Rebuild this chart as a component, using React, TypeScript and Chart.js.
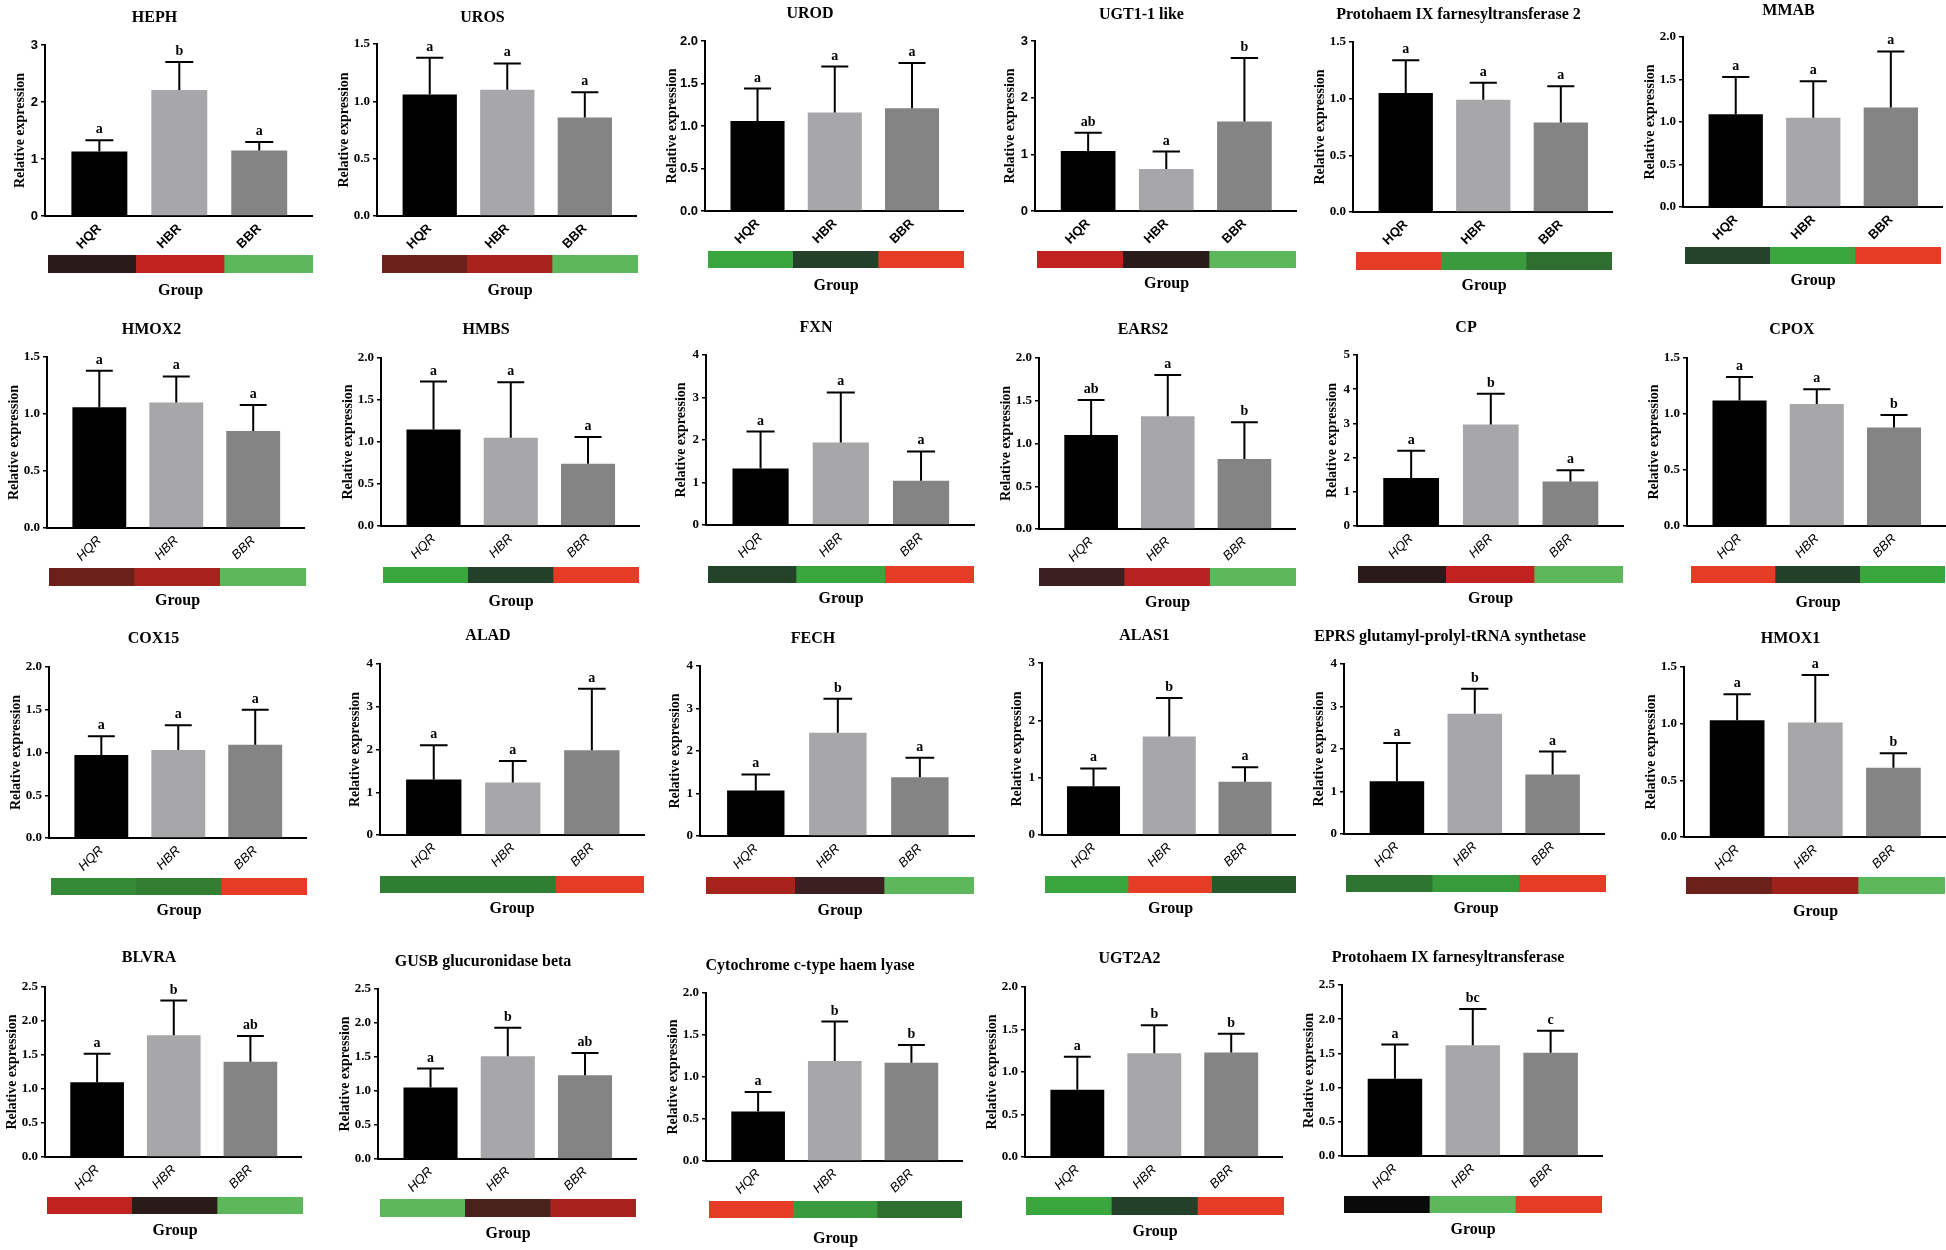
import React, { useEffect, useRef } from 'react';
import { Chart, registerables } from 'chart.js';
Chart.register(...registerables);

// ---------------- DATA ----------------
const genes = [
  'HEPH', 'UROS', 'UROD', 'UGT1-1 like', 'Protohaem IX farnesyltransferase 2', 'MMAB',
  'HMOX2', 'HMBS', 'FXN', 'EARS2', 'CP', 'CPOX',
  'COX15', 'ALAD', 'FECH', 'ALAS1', 'EPRS glutamyl-prolyl-tRNA synthetase', 'HMOX1',
  'BLVRA', 'GUSB glucuronidase beta', 'Cytochrome c-type haem lyase', 'UGT2A2', 'Protohaem IX farnesyltransferase',
];
const groups = ['HQR', 'HBR', 'BBR'];
const yAxisTitle = 'Relative expression';
const stripTitle = 'Group';

const hqrMean = [1.13, 1.06, 1.06, 1.06, 1.05, 1.09, 1.06, 1.15, 1.33, 1.10, 1.40, 1.12, 0.97, 1.30, 1.07, 0.85, 1.24, 1.03, 1.10, 1.05, 0.59, 0.79, 1.13];
const hqrErr = [0.20, 0.32, 0.38, 0.32, 0.29, 0.44, 0.32, 0.57, 0.87, 0.41, 0.80, 0.21, 0.22, 0.80, 0.38, 0.31, 0.90, 0.23, 0.42, 0.28, 0.23, 0.39, 0.50];
const hbrMean = [2.21, 1.10, 1.16, 0.74, 0.99, 1.05, 1.10, 1.05, 1.94, 1.32, 2.97, 1.09, 1.03, 1.23, 2.43, 1.72, 2.83, 1.01, 1.79, 1.51, 1.19, 1.22, 1.62];
const hbrErr = [0.49, 0.23, 0.54, 0.31, 0.15, 0.43, 0.23, 0.66, 1.18, 0.48, 0.90, 0.13, 0.29, 0.50, 0.80, 0.67, 0.59, 0.42, 0.51, 0.42, 0.47, 0.33, 0.53];
const bbrMean = [1.15, 0.86, 1.21, 1.58, 0.79, 1.17, 0.85, 0.74, 1.04, 0.82, 1.30, 0.88, 1.09, 1.98, 1.38, 0.93, 1.40, 0.61, 1.40, 1.23, 1.17, 1.23, 1.51];
const bbrErr = [0.15, 0.22, 0.53, 1.12, 0.32, 0.66, 0.23, 0.32, 0.69, 0.43, 0.33, 0.11, 0.41, 1.44, 0.46, 0.25, 0.54, 0.13, 0.38, 0.33, 0.21, 0.22, 0.32];

const hqrLetter = ['a', 'a', 'a', 'ab', 'a', 'a', 'a', 'a', 'a', 'ab', 'a', 'a', 'a', 'a', 'a', 'a', 'a', 'a', 'a', 'a', 'a', 'a', 'a'];
const hbrLetter = ['b', 'a', 'a', 'a', 'a', 'a', 'a', 'a', 'a', 'a', 'b', 'a', 'a', 'a', 'b', 'b', 'b', 'a', 'b', 'b', 'b', 'b', 'bc'];
const bbrLetter = ['a', 'a', 'a', 'b', 'a', 'a', 'a', 'a', 'a', 'b', 'a', 'b', 'a', 'a', 'a', 'a', 'a', 'b', 'ab', 'ab', 'b', 'b', 'c'];

const yMax = [3, 1.5, 2, 3, 1.5, 2, 1.5, 2, 4, 2, 5, 1.5, 2, 4, 4, 3, 4, 1.5, 2.5, 2.5, 2, 2, 2.5];
const yStep = [1, 0.5, 0.5, 1, 0.5, 0.5, 0.5, 0.5, 1, 0.5, 1, 0.5, 0.5, 1, 1, 1, 1, 0.5, 0.5, 0.5, 0.5, 0.5, 0.5];

// heat-strip colours per group
const stripHQR = ['#2b1a1a', '#6b201a', '#3aa63e', '#c0231f', '#e63b25', '#24442a', '#6b201a', '#3aa63e', '#24442a', '#3a2020', '#2b1a1a', '#e63b25', '#358a38', '#2f7f33', '#a8231c', '#3aa63e', '#2e7532', '#6b201a', '#c0231f', '#5cb85a', '#e63b25', '#3aa63e', '#0a0a0a'];
const stripHBR = ['#c0231f', '#a8231c', '#23402a', '#2b1a1a', '#3a9a3e', '#3aa63e', '#a8231c', '#23402a', '#3aa63e', '#b82222', '#c0231f', '#23402a', '#327f34', '#2f7f33', '#3a2020', '#e63b25', '#379a3b', '#9e201a', '#2b1a1a', '#4a221c', '#3a9a3e', '#23402a', '#5cb85a'];
const stripBBR = ['#5cb85a', '#5cb85a', '#e63b25', '#5cb85a', '#2e6e2e', '#e63b25', '#5cb85a', '#e63b25', '#e63b25', '#5cb85a', '#5cb85a', '#3aa63e', '#e63b25', '#e63b25', '#5cb85a', '#26592a', '#e63b25', '#5cb85a', '#5cb85a', '#a8231c', '#2e6e2e', '#e63b25', '#e63b25'];

const barColors = ['#000000', '#a7a7a9', '#848484'];

// ---------------- LAYOUT (pixels) ----------------
// [plotLeft, plotRight, plotTop, plotBottom, titleY, stripLeft, stripRight, stripTop, stripBottom, groupY]
const LAYOUT: number[][] = [
  [45, 312, 45, 216, 18, 48, 313, 255, 273, 290],
  [377, 636, 44, 216, 18, 382, 638, 255, 273, 290],
  [705, 963, 41, 211, 14, 708, 964, 251, 268, 285],
  [1035, 1296, 41, 211, 15, 1037, 1296, 251, 268, 283],
  [1353, 1612, 42, 212, 15, 1356, 1612, 252, 270, 285],
  [1683, 1942, 37, 207, 11, 1685, 1941, 247, 264, 280],
  [47, 304, 357, 528, 330, 49, 306, 568, 586, 600],
  [381, 639, 358, 526, 330, 383, 639, 567, 583, 601],
  [706, 974, 355, 525, 328, 708, 974, 566, 583, 598],
  [1039, 1295, 358, 529, 330, 1039, 1296, 568, 586, 602],
  [1357, 1623, 355, 526, 328, 1358, 1623, 566, 583, 598],
  [1687, 1945, 358, 526, 330, 1691, 1945, 566, 583, 602],
  [49, 306, 667, 838, 639, 51, 307, 878, 895, 910],
  [380, 644, 664, 835, 636, 380, 644, 876, 893, 908],
  [700, 974, 666, 836, 639, 706, 974, 877, 894, 910],
  [1042, 1295, 663, 835, 636, 1045, 1296, 876, 893, 908],
  [1344, 1604, 664, 834, 637, 1346, 1606, 875, 892, 908],
  [1684, 1945, 667, 837, 639, 1686, 1945, 877, 894, 911],
  [45, 301, 987, 1157, 958, 47, 303, 1197, 1214, 1230],
  [378, 636, 989, 1159, 962, 380, 636, 1199, 1217, 1233],
  [706, 962, 993, 1161, 966, 709, 962, 1201, 1218, 1238],
  [1025, 1282, 987, 1157, 959, 1026, 1284, 1197, 1215, 1231],
  [1342, 1602, 985, 1156, 958, 1344, 1602, 1196, 1213, 1229],
];

const YW = 48; // y-axis box width
const PR = 48; // right padding (symmetric so title centres over plot)
const XH = 40; // x-axis box height
const SERIF = "'Liberation Serif', 'Times New Roman', serif";
const SANS = "'Liberation Sans', Arial, sans-serif";

function mainGeom(i: number) {
  const [pl, pr, pt, pb, ty] = LAYOUT[i];
  const left = pl - YW;
  const top = ty - 12;
  return { left, top, width: pr - pl + YW + PR, height: pb + XH - top };
}
function stripGeom(i: number) {
  const [, , , , , sl, sr, st, sb, gy] = LAYOUT[i];
  return { left: sl, top: st, width: sr - sl, height: Math.round(gy + 9.6 - st), stripH: sb - st };
}

function makeMain(canvas: HTMLCanvasElement, i: number) {
  const [, , pt, , ty] = LAYOUT[i];
  const means = [hqrMean[i], hbrMean[i], bbrMean[i]];
  const errs = [hqrErr[i], hbrErr[i], bbrErr[i]];
  const letters = [hqrLetter[i], hbrLetter[i], bbrLetter[i]];
  const row = Math.floor(i / 6);
  const tickSans = [0, 2, 3].includes(i);
  const decimal = yStep[i] < 1;
  const titleDist = decimal ? 33 : 25;

  const errPlugin = {
    id: 'errbars' + i,
    afterDatasetsDraw(chart: any) {
      const meta = chart.getDatasetMeta(0);
      const ys = chart.scales.y;
      const ctx = chart.ctx;
      meta.data.forEach((bar: any, k: number) => {
        const p = bar.getProps(['x', 'y', 'width'], true);
        const top = ys.getPixelForValue(means[k] + errs[k]);
        ctx.save();
        ctx.strokeStyle = '#000';
        ctx.lineWidth = 2;
        ctx.beginPath();
        ctx.moveTo(p.x, p.y);
        ctx.lineTo(p.x, top);
        ctx.moveTo(p.x - p.width * 0.25, top);
        ctx.lineTo(p.x + p.width * 0.25, top);
        ctx.stroke();
        ctx.fillStyle = '#000';
        ctx.font = `bold 14px ${SERIF}`;
        ctx.textAlign = 'center';
        ctx.textBaseline = 'alphabetic';
        ctx.fillText(letters[k], p.x, top - 7);
        ctx.restore();
      });
    },
  };

  return new Chart(canvas, {
    type: 'bar',
    data: {
      datasets: [{
        data: means.map((v, k) => ({ x: k, y: v })),
        backgroundColor: barColors,
        borderWidth: 0,
        barPercentage: 0.7,
        categoryPercentage: 1,
      }],
    },
    options: {
      animation: false,
      responsive: false,
      devicePixelRatio: 1,
      events: [],
      layout: { padding: { left: 0, right: PR, top: 0, bottom: 0 } },
      plugins: {
        legend: { display: false },
        tooltip: { enabled: false },
        title: {
          display: true,
          text: genes[i],
          color: '#000',
          font: { family: SERIF, size: 16, weight: 'bold' },
          padding: { top: 2.4, bottom: pt - ty - 9.6 },
        },
      },
      scales: {
        x: {
          type: 'linear',
          min: -0.68,
          max: 2.66,
          bounds: 'data',
          offset: false,
          grid: { display: false, drawTicks: false, offset: false },
          border: { display: true, color: '#000', width: 2 },
          afterBuildTicks: (s: any) => { s.ticks = groups.map((_, k) => ({ value: k })); },
          ticks: {
            autoSkip: false,
            minRotation: 45,
            maxRotation: 45,
            padding: 5,
            color: '#000',
            font: { family: SANS, size: 13, style: row === 0 ? 'normal' : 'italic', weight: row === 0 ? 'bold' : 'normal' },
            callback: (v: any) => groups[v] ?? '',
          },
          afterFit: (s: any) => { s.height = XH; },
        },
        y: {
          min: 0,
          max: yMax[i],
          ticks: {
            stepSize: yStep[i],
            color: '#000',
            padding: 3,
            font: { family: tickSans ? SANS : SERIF, size: 13, weight: 'bold' },
            callback: (v: any) => (decimal ? Number(v).toFixed(1) : String(v)),
          },
          grid: { drawOnChartArea: false, drawTicks: true, tickLength: 4, color: '#000', lineWidth: 1.5 },
          border: { display: true, color: '#000', width: 2 },
          title: {
            display: true,
            text: yAxisTitle,
            color: '#000',
            font: { family: SERIF, size: 14, weight: 'bold' },
            padding: { top: YW - titleDist - 8.4, bottom: 0 },
          },
          afterFit: (s: any) => { s.width = YW; },
        },
      },
    } as any,
    plugins: [errPlugin],
  });
}

function makeStrip(canvas: HTMLCanvasElement, i: number) {
  const g = stripGeom(i);
  return new Chart(canvas, {
    type: 'bar',
    data: {
      labels: groups,
      datasets: [{
        data: [1, 1, 1],
        backgroundColor: [stripHQR[i], stripHBR[i], stripBBR[i]],
        borderWidth: 0,
        barPercentage: 1,
        categoryPercentage: 1,
      }],
    },
    options: {
      animation: false,
      responsive: false,
      devicePixelRatio: 1,
      events: [],
      layout: { padding: 0 },
      plugins: { legend: { display: false }, tooltip: { enabled: false } },
      scales: {
        x: {
          grid: { display: false, drawTicks: false },
          border: { display: false },
          ticks: { display: false },
          title: {
            display: true,
            text: stripTitle,
            color: '#000',
            font: { family: SERIF, size: 16, weight: 'bold' },
            padding: 0,
          },
          afterFit: (s: any) => { s.height = g.height - g.stripH; },
        },
        y: { display: false, min: 0, max: 1 },
      },
    } as any,
  });
}

function Panel({ i }: { i: number }) {
  const mainRef = useRef<HTMLCanvasElement>(null);
  const stripRef = useRef<HTMLCanvasElement>(null);
  useEffect(() => {
    const c1 = makeMain(mainRef.current!, i);
    const c2 = makeStrip(stripRef.current!, i);
    return () => { c1.destroy(); c2.destroy(); };
  }, [i]);
  const m = mainGeom(i);
  const s = stripGeom(i);
  return (
    <>
      <canvas
        ref={mainRef}
        width={m.width}
        height={m.height}
        style={{ position: 'absolute', left: m.left, top: m.top, width: m.width, height: m.height }}
      />
      <canvas
        ref={stripRef}
        width={s.width}
        height={s.height}
        style={{ position: 'absolute', left: s.left, top: s.top, width: s.width, height: s.height }}
      />
    </>
  );
}

export default function App() {
  return (
    <div style={{ position: 'absolute', left: 0, top: 0, width: 1946, height: 1250, overflow: 'hidden', background: '#fff' }}>
      {genes.map((_, i) => <Panel key={i} i={i} />)}
    </div>
  );
}
